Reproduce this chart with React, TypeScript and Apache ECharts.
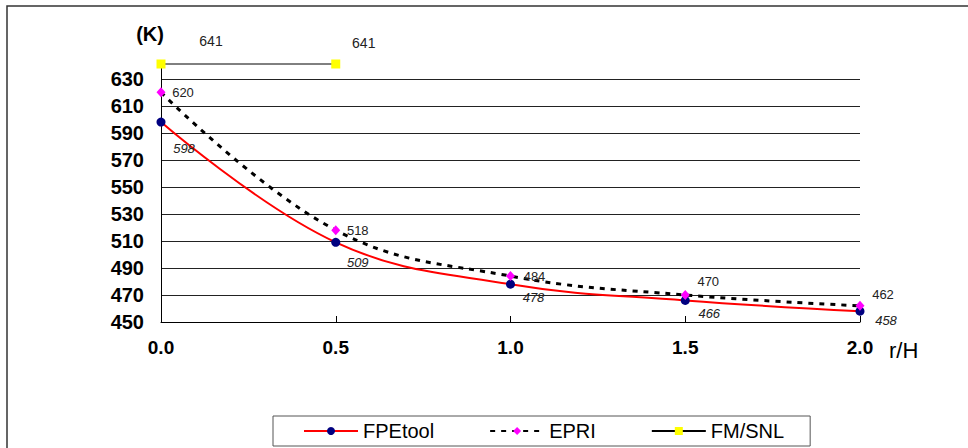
import React, { useEffect, useRef } from "react";
import * as echarts from "echarts";

const xValues = [0, 0.5, 1.0, 1.5, 2.0];
const fpetool = [598, 509, 478, 466, 458];
const epri = [620, 518, 484, 470, 462];
const fmsnlX = [0, 0.5];
const fmsnl = [641, 641];
const yTicksMin = 450;
const yTicksMax = 641;
const yInterval = 20;

const fpeOffsets = [[23, 26], [22, 20], [23, 13], [24, 13], [26, 9]];
const epriOffsets = [[22, 0], [22, 0], [24, 0], [23, -13], [23, -11]];
const fmOffsets = [[50, -23], [28, -21]];

const FONT = "'Liberation Sans', Arial, sans-serif";

export default function App() {
  const ref = useRef<HTMLDivElement>(null);
  useEffect(() => {
    if (!ref.current) return;
    const chart = echarts.init(ref.current, undefined, { renderer: "svg" });
    const mk = (xs: number[], ys: number[], offs: number[][]) =>
      ys.map((v, i) => ({ value: [xs[i], v], label: { offset: offs[i] } }));
    chart.setOption({
      animation: false,
      backgroundColor: "#ffffff",
      textStyle: { fontFamily: FONT },
      grid: { left: 161, right: 108, top: 64, bottom: 126, containLabel: false },
      graphic: [
        {
          type: "rect",
          shape: { x: 7, y: 6, width: 1100, height: 600 },
          style: { fill: "none", stroke: "#333", lineWidth: 1.5 },
          silent: true,
        },
      ],
      legend: {
        left: 273,
        top: 416,
        orient: "horizontal",
        borderColor: "#555",
        borderWidth: 1,
        borderRadius: 0,
        padding: [5, 26, 5, 30],
        itemWidth: 54,
        itemHeight: 10,
        itemGap: 55,
        textStyle: { fontFamily: FONT, fontSize: 20, color: "#000" },
        data: ["FPEtool", "EPRI", "FM/SNL"],
      },
      xAxis: {
        type: "value",
        min: 0,
        max: 2,
        interval: 0.5,
        name: "r/H",
        nameLocation: "end",
        nameGap: 29,
        nameTextStyle: {
          fontFamily: FONT,
          fontSize: 22,
          color: "#000",
          verticalAlign: "top",
          padding: [17, 0, 0, 0],
        },
        axisLine: { show: true, lineStyle: { color: "#000", width: 1 } },
        axisTick: { show: true, inside: true, length: 6, lineStyle: { color: "#000" } },
        splitLine: { show: false },
        axisLabel: {
          margin: 16,
          fontFamily: FONT,
          fontSize: 19,
          fontWeight: "bold",
          color: "#000",
          formatter: (v: number) => v.toFixed(1),
        },
      },
      yAxis: {
        type: "value",
        min: yTicksMin,
        max: yTicksMax,
        interval: yInterval,
        name: "(K)",
        nameLocation: "end",
        nameGap: 20,
        nameTextStyle: { fontFamily: FONT, fontSize: 20, fontWeight: "bold", color: "#000", padding: [0, 22, 0, 0] },
        axisLine: { show: true, lineStyle: { color: "#000", width: 1 } },
        axisTick: { show: false },
        splitLine: { show: true, showMaxLine: false, lineStyle: { color: "#222", width: 1 } },
        axisLabel: {
          margin: 17,
          fontFamily: FONT,
          fontSize: 20,
          fontWeight: "bold",
          color: "#000",
          showMaxLabel: false,
        },
      },
      series: [
        {
          name: "FPEtool",
          type: "line",
          smooth: 0.4,
          clip: false,
          symbol: "circle",
          symbolSize: 9,
          itemStyle: { color: "#000080" },
          lineStyle: { color: "#ff0000", width: 2 },
          label: {
            show: true,
            position: "inside",
            fontFamily: FONT,
            fontSize: 13,
            fontStyle: "italic",
            color: "#222",
          },
          data: mk(xValues, fpetool, fpeOffsets),
          z: 3,
        },
        {
          name: "EPRI",
          type: "line",
          smooth: 0.4,
          clip: false,
          symbol: "diamond",
          symbolSize: [9, 10],
          itemStyle: { color: "#ff00ff" },
          lineStyle: { color: "#000", width: 3, type: [5, 6] },
          label: {
            show: true,
            position: "inside",
            fontFamily: FONT,
            fontSize: 13,
            color: "#222",
          },
          data: mk(xValues, epri, epriOffsets),
          z: 4,
        },
        {
          name: "FM/SNL",
          type: "line",
          clip: false,
          symbol: "rect",
          symbolSize: 9,
          itemStyle: { color: "#ffff00" },
          lineStyle: { color: "#000", width: 1 },
          label: {
            show: true,
            position: "inside",
            fontFamily: FONT,
            fontSize: 14,
            color: "#222",
          },
          data: mk(fmsnlX, fmsnl, fmOffsets),
          z: 5,
        },
      ],
    });
    return () => chart.dispose();
  }, []);
  return (
    <div
      ref={ref}
      style={{ position: "fixed", left: 0, top: 0, width: 968, height: 448 }}
    />
  );
}
